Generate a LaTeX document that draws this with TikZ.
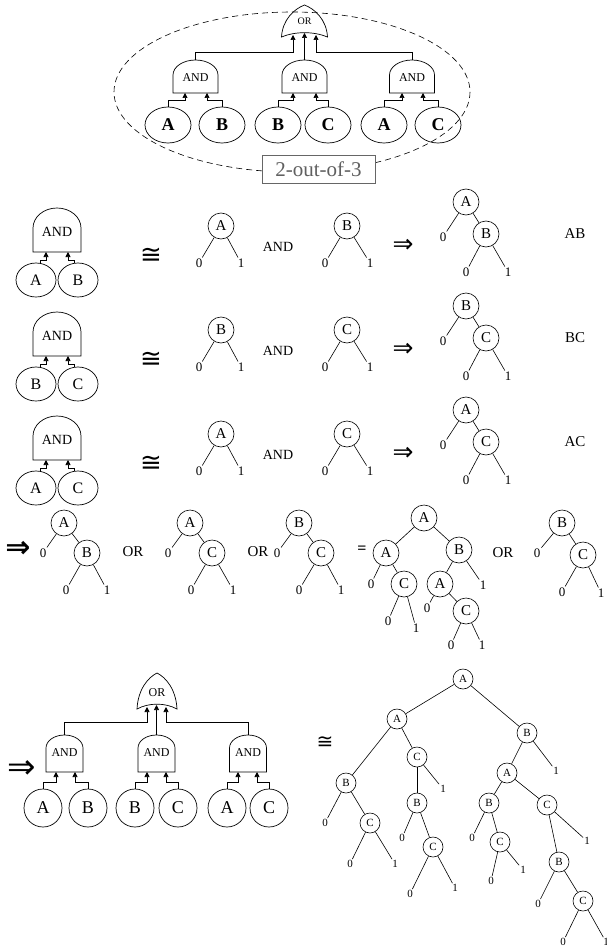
\documentclass[tikz,border=0pt]{standalone}
\usepackage{fontspec}
\setmainfont{Liberation Serif}
\newfontfamily\djv{DejaVu Sans}
\usetikzlibrary{shapes.geometric,arrows.meta,calc}
\tikzset{
  gate/.style={draw, line width=0.7pt},
  gin/.style={-{Triangle[length=5pt,width=5pt]}, line width=0.7pt},
  fbox/.style={draw, ellipse, inner sep=0pt, line width=0.7pt},
  tn/.style={draw, circle, inner sep=0pt, minimum size=26pt, line width=0.6pt, font=\fontsize{15}{15}\selectfont},
  sn/.style={draw, circle, inner sep=0pt, minimum size=20pt, line width=0.6pt, font=\fontsize{11}{11}\selectfont},
  lf/.style={inner sep=1pt, font=\fontsize{13}{13}\selectfont},
  sl/.style={inner sep=1pt, font=\fontsize{11}{11}\selectfont},
  txt/.style={inner sep=1pt, font=\fontsize{15}{15}\selectfont},
  sym/.style={inner sep=0pt, font=\djv\fontsize{22}{22}\selectfont},
  edge/.style={line width=0.6pt},
}
\newcommand\AndG[6]{% name cx top w h archeight
  \draw[gate] ({#2-#4/2},{#3+#5}) -- ({#2-#4/2},{#3+#6})
    arc[start angle=180,end angle=360,x radius={#4/2},y radius=#6]
    -- ({#2+#4/2},{#3+#5}) -- cycle;
  \coordinate (#1) at (#2,#3);
}
\newcommand\OrG[5]{% name cx top w h
  \draw[gate] ({#2-#4/2},{#3+#5})
    .. controls ({#2-#4/2+1},{#3+0.45*#5}) and ({#2-0.22*#4},{#3+0.12*#5}) .. (#2,#3)
    .. controls ({#2+0.22*#4},{#3+0.12*#5}) and ({#2+#4/2-1},{#3+0.45*#5}) .. ({#2+#4/2},{#3+#5})
    .. controls ({#2+0.2*#4},{#3+0.82*#5}) and ({#2-0.2*#4},{#3+0.82*#5}) .. cycle;
  \coordinate (#1) at (#2,#3);
}
\newcommand\RowBlk[5]{%
\begin{scope}[shift={(0,#2)}]
  \AndG{#1g}{57}{208}{48}{44}{20}
  \node[font=\fontsize{14}{14}\selectfont] (#1gl) at (57,232) {AND};
  \node[fbox, minimum width=40pt, minimum height=34pt, font=\fontsize{16}{16}\selectfont] (#1c1) at (36,280) {#3};
  \node[fbox, minimum width=40pt, minimum height=34pt, font=\fontsize{16}{16}\selectfont] (#1c2) at (78,280) {#4};
  \coordinate (#1i1) at (46,252);
  \coordinate (#1i2) at (68,252);
  \draw[gin] ([xshift=4pt]#1c1.north) |- (46,260) -- (#1i1);
  \draw[gin] ([xshift=-4pt]#1c2.north) |- (68,260) -- (#1i2);
  \node[sym, font=\djv\fontsize{26}{26}\selectfont] (#1eq) at (151,256) {≅};
  \node[tn] (#1a) at (221,226) {#3};
  \node[lf] (#1a0) at (199,263) {0};
  \node[lf] (#1a1) at (241,263) {1};
  \draw[edge] (#1a) -- (#1a0);
  \draw[edge] (#1a) -- (#1a1);
  \node[font=\fontsize{14}{14}\selectfont] (#1and) at (278,247) {AND};
  \node[tn] (#1b) at (347,226) {#4};
  \node[lf] (#1b0) at (325,263) {0};
  \node[lf] (#1b1) at (370,263) {1};
  \draw[edge] (#1b) -- (#1b0);
  \draw[edge] (#1b) -- (#1b1);
  \node[sym, font=\djv\fontsize{25}{25}\selectfont] (#1imp) at (403,246) {⇒};
  \node[tn] (#1r) at (466,202) {#3};
  \node[lf] (#1r0) at (443,237) {0};
  \node[tn] (#1s) at (486,234) {#4};
  \node[lf] (#1s0) at (466,272) {0};
  \node[lf] (#1s1) at (508,272) {1};
  \draw[edge] (#1r) -- (#1r0);
  \draw[edge] (#1r) -- (#1s);
  \draw[edge] (#1s) -- (#1s0);
  \draw[edge] (#1s) -- (#1s1);
  \node[txt] (#1lab) at (575,234) {#5};
\end{scope}}
\begin{document}
\begin{tikzpicture}[x=1pt,y=-1pt]
\useasboundingbox (0,0) rectangle (607,947);
% ---------------- top: 2-out-of-3 fault tree ----------------
\draw[line width=0.6pt, dash pattern=on 6pt off 4pt] (292,92) ellipse [x radius=178, y radius=80];
\OrG{tor}{304.5}{5}{46}{32}
\node[font=\fontsize{10}{10}\selectfont] (torl) at (304.5,21) {OR};
\AndG{ta1}{195.5}{60}{45}{33}{15}
\AndG{ta2}{304.5}{60}{45}{33}{15}
\AndG{ta3}{412}{60}{45}{33}{15}
\node[font=\fontsize{12}{12}\selectfont] (ta1l) at (195.5,78) {AND};
\node[font=\fontsize{12}{12}\selectfont] (ta2l) at (304.5,78) {AND};
\node[font=\fontsize{12}{12}\selectfont] (ta3l) at (412,78) {AND};
\coordinate (tor1) at (293,35);
\coordinate (tor2) at (304.5,33);
\coordinate (tor3) at (316,35);
\draw[gin] (ta1) |- (293,52) -- (tor1);
\draw[gin] (ta2) -- (tor2);
\draw[gin] (ta3) |- (316,52) -- (tor3);
\tikzset{tbig/.style={fbox, minimum width=46pt, minimum height=36pt, font=\bfseries\fontsize{18}{18}\selectfont}}
\node[tbig] (tc1) at (168,125) {A};
\node[tbig] (tc2) at (222,125) {B};
\node[tbig] (tc3) at (278,125) {B};
\node[tbig] (tc4) at (328,125) {C};
\node[tbig] (tc5) at (384,125) {A};
\node[tbig] (tc6) at (438,125) {C};
\coordinate (ti1) at (185,93);
\coordinate (ti2) at (207,93);
\coordinate (ti3) at (293,93);
\coordinate (ti4) at (316,93);
\coordinate (ti5) at (402,93);
\coordinate (ti6) at (423,93);
\draw[gin] (tc1.north) |- (185,100) -- (ti1);
\draw[gin] (tc2.north) |- (207,100) -- (ti2);
\draw[gin] (tc3.north) |- (293,100) -- (ti3);
\draw[gin] (tc4.north) |- (316,100) -- (ti4);
\draw[gin] (tc5.north) |- (402,100) -- (ti5);
\draw[gin] (tc6.north) |- (423,100) -- (ti6);
\node[draw=gray!80!black, fill=white, text=gray!75!black, line width=0.6pt, minimum width=113pt, minimum height=28pt, inner sep=0pt, font=\fontsize{21}{21}\selectfont] (kofn) at (318.5,169) {2-out-of-3};
% ---------------- three AND rows ----------------
\RowBlk{ra}{0}{A}{B}{AB}
\RowBlk{rb}{104}{B}{C}{BC}
\RowBlk{rc}{208}{A}{C}{AC}
% ---------------- OR row ----------------
\node[sym, font=\djv\bfseries\fontsize{30}{30}\selectfont] (imp4) at (18,549) {⇒};
\node[tn] (p1a) at (64,523) {A};
\node[lf] (p1a0) at (43,553) {0};
\node[tn] (p1b) at (87,553) {B};
\node[lf] (p1b0) at (66,590) {0};
\node[lf] (p1b1) at (107,590) {1};
\draw[edge] (p1a) -- (p1a0); \draw[edge] (p1a) -- (p1b);
\draw[edge] (p1b) -- (p1b0); \draw[edge] (p1b) -- (p1b1);
\node[txt] (or1) at (133,552) {OR};
\node[tn] (p2a) at (190,523) {A};
\node[lf] (p2a0) at (168,553) {0};
\node[tn] (p2b) at (212,553) {C};
\node[lf] (p2b0) at (191,590) {0};
\node[lf] (p2b1) at (233,590) {1};
\draw[edge] (p2a) -- (p2a0); \draw[edge] (p2a) -- (p2b);
\draw[edge] (p2b) -- (p2b0); \draw[edge] (p2b) -- (p2b1);
\node[txt] (or2) at (258,552) {OR};
\node[tn] (p3a) at (299,523) {B};
\node[lf] (p3a0) at (277,553) {0};
\node[tn] (p3b) at (321,553) {C};
\node[lf] (p3b0) at (299,590) {0};
\node[lf] (p3b1) at (341,590) {1};
\draw[edge] (p3a) -- (p3a0); \draw[edge] (p3a) -- (p3b);
\draw[edge] (p3b) -- (p3b0); \draw[edge] (p3b) -- (p3b1);
\node[txt, font=\bfseries\fontsize{16}{16}\selectfont] (eq4) at (362,550) {=};
\node[tn] (q0) at (424,518) {A};
\node[tn] (q1) at (386,553) {A};
\node[tn] (q2) at (459,550) {B};
\node[lf] (q3) at (371,584) {0};
\node[tn] (q4) at (404,584) {C};
\node[lf] (q5) at (388,621) {0};
\node[lf] (q6) at (416,628) {1};
\node[tn] (q7) at (440,584) {A};
\node[lf] (q8) at (483,585) {1};
\node[lf] (q9) at (427,608) {0};
\node[tn] (q10) at (466,611) {C};
\node[lf] (q11) at (451,645) {0};
\node[lf] (q12) at (482,645) {1};
\foreach \u/\v in {q0/q1,q0/q2,q1/q3,q1/q4,q4/q5,q4/q6,q2/q7,q2/q8,q7/q9,q7/q10,q10/q11,q10/q12}
  \draw[edge] (\u) -- (\v);
\node[txt] (or3) at (503,553) {OR};
\node[tn] (p4a) at (562,523) {B};
\node[lf] (p4a0) at (537,553) {0};
\node[tn] (p4b) at (583,555) {C};
\node[lf] (p4b0) at (562,592) {0};
\node[lf] (p4b1) at (601,593) {1};
\draw[edge] (p4a) -- (p4a0); \draw[edge] (p4a) -- (p4b);
\draw[edge] (p4b) -- (p4b0); \draw[edge] (p4b) -- (p4b1);
% ---------------- bottom fault tree ----------------
\node[sym, font=\djv\fontsize{34}{34}\selectfont] (imp5) at (22,770) {⇒};
\OrG{bor}{157}{673}{40}{36}
\node[font=\fontsize{12}{12}\selectfont] (borl) at (157,693) {OR};
\AndG{ba1}{64.5}{735}{37}{37}{13}
\AndG{ba2}{156.5}{735}{37}{37}{13}
\AndG{ba3}{248}{735}{37}{37}{13}
\node[font=\fontsize{12}{12}\selectfont] (ba1l) at (64.5,753) {AND};
\node[font=\fontsize{12}{12}\selectfont] (ba2l) at (156.5,753) {AND};
\node[font=\fontsize{12}{12}\selectfont] (ba3l) at (248,753) {AND};
\coordinate (bor1) at (147,707);
\coordinate (bor2) at (156.5,705);
\coordinate (bor3) at (166,707);
\draw[gin] (ba1) |- (147,722) -- (bor1);
\draw[gin] (ba2) -- (bor2);
\draw[gin] (ba3) |- (166,722) -- (bor3);
\tikzset{bbig/.style={fbox, minimum width=38pt, minimum height=38pt, font=\fontsize{18}{18}\selectfont}}
\node[bbig] (bc1) at (43,808) {A};
\node[bbig] (bc2) at (88,808) {B};
\node[bbig] (bc3) at (135,808) {B};
\node[bbig] (bc4) at (178,808) {C};
\node[bbig] (bc5) at (227,808) {A};
\node[bbig] (bc6) at (269,808) {C};
\coordinate (bi1) at (56,772);
\coordinate (bi2) at (75,772);
\coordinate (bi3) at (147,772);
\coordinate (bi4) at (166,772);
\coordinate (bi5) at (238,772);
\coordinate (bi6) at (257,772);
\draw[gin] (bc1.north) |- (56,782) -- (bi1);
\draw[gin] (bc2.north) |- (75,782) -- (bi2);
\draw[gin] (bc3.north) |- (147,782) -- (bi3);
\draw[gin] (bc4.north) |- (166,782) -- (bi4);
\draw[gin] (bc5.north) |- (238,782) -- (bi5);
\draw[gin] (bc6.north) |- (257,782) -- (bi6);
\node[sym, font=\djv\fontsize{20}{20}\selectfont] (eq5) at (325,743) {≅};
% ---------------- bottom BDD ----------------
\node[sn] (b0) at (463,679) {A};
\node[sn] (b1) at (397,719) {A};
\node[sn] (b2) at (527,733) {B};
\node[sn] (b3) at (346,783) {B};
\node[sn] (b4) at (417,757) {C};
\node[sl] (b5) at (443,789) {1};
\node[sl] (b6) at (325,823) {0};
\node[sn] (b7) at (370,823) {C};
\node[sl] (b8) at (350,864) {0};
\node[sl] (b9) at (395,864) {1};
\node[sn] (b10) at (417,803) {B};
\node[sl] (b11) at (402,838) {0};
\node[sn] (b12) at (433,847) {C};
\node[sl] (b13) at (410,894) {0};
\node[sl] (b14) at (455,888) {1};
\node[sn] (b15) at (507,773) {A};
\node[sl] (b16) at (556,771) {1};
\node[sn] (b17) at (489,803) {B};
\node[sn] (b18) at (547,805) {C};
\node[sl] (b19) at (472,838) {0};
\node[sn] (b20) at (500,842) {C};
\node[sl] (b21) at (491,881) {0};
\node[sl] (b22) at (523,870) {1};
\node[sn] (b23) at (559,862) {B};
\node[sl] (b24) at (587,841) {1};
\node[sl] (b25) at (538,904) {0};
\node[sn] (b26) at (583,901) {C};
\node[sl] (b27) at (563,942) {0};
\node[sl] (b28) at (606,942) {1};
\foreach \u/\v in {b0/b1,b0/b2,b1/b3,b1/b4,b4/b10,b4/b5,b3/b6,b3/b7,b7/b8,b7/b9,b10/b11,b10/b12,b12/b13,b12/b14,b2/b15,b2/b16,b15/b17,b15/b18,b17/b19,b17/b20,b20/b21,b20/b22,b18/b23,b18/b24,b23/b25,b23/b26,b26/b27,b26/b28}
  \draw[edge] (\u) -- (\v);
\end{tikzpicture}
\end{document}
